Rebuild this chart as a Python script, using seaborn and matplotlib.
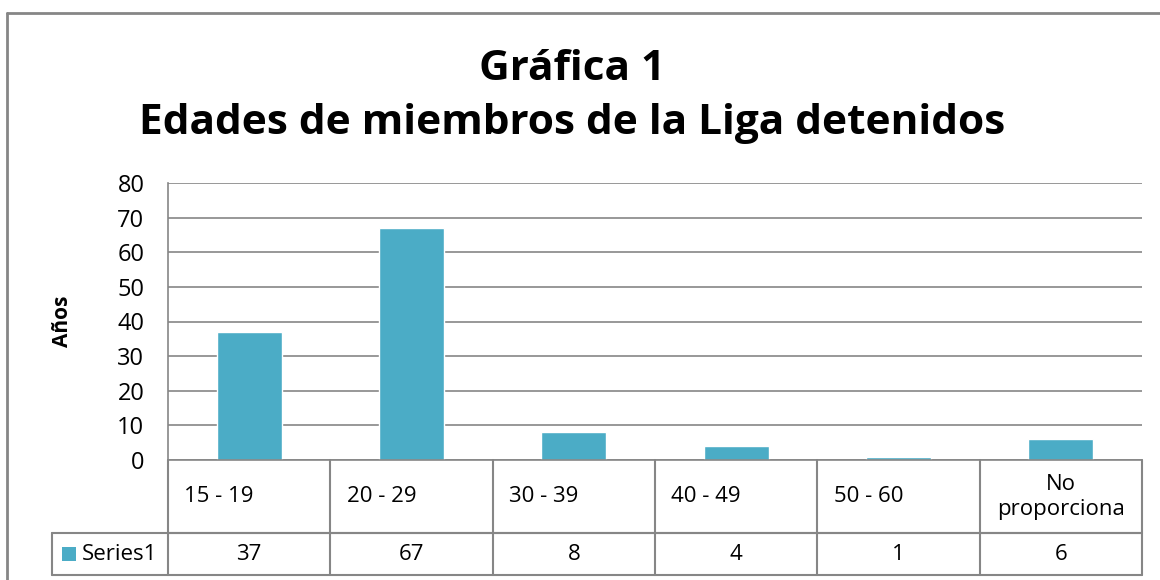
import matplotlib
matplotlib.use("Agg")
import matplotlib.pyplot as plt
import seaborn as sns
import pandas as pd
from matplotlib.patches import Rectangle
from matplotlib.lines import Line2D

# datos de la grafica
categorias = ["15 - 19", "20 - 29", "30 - 39", "40 - 49", "50 - 60", "No\nproporciona"]
valores = [37, 67, 8, 4, 1, 6]
serie = "Series1"
titulo = "Gráfica 1\nEdades de miembros de la Liga detenidos"
etiqueta_y = "Años"
ticks_y = [0, 10, 20, 30, 40, 50, 60, 70, 80]

COLOR = "#4BACC6"
GRIS = "#868686"
W, H = 1160, 580

sns.set_theme(style="white")
plt.rcParams["font.family"] = ["Open Sans", "DejaVu Sans"]
plt.rcParams["text.color"] = "black"
plt.rcParams["ytick.color"] = "black"
plt.rcParams["axes.labelcolor"] = "black"

df = pd.DataFrame({"categoria": categorias, "valor": valores})

fig = plt.figure(figsize=(W / 100, H / 100), dpi=100)

# area de trazado en pixeles
x0, x1 = 168, 1142
y_top, y_cero = 183, 460
ax = fig.add_axes([x0 / W, 1 - y_cero / H, (x1 - x0) / W, (y_cero - y_top) / H])

sns.barplot(data=df, x="categoria", y="valor", color=COLOR, width=0.4,
            saturation=1, ax=ax)

ax.set_ylim(0, 80)
ax.set_xlim(-0.5, len(categorias) - 0.5)
ax.set_yticks(ticks_y)
ax.tick_params(axis="y", labelsize=17, pad=17, length=0)
ax.set_xticks([])
ax.set_xlabel("")
ax.set_ylabel(etiqueta_y, fontsize=15, fontweight="bold", labelpad=32)
ax.yaxis.grid(True, color=GRIS, linewidth=1.2)
ax.set_axisbelow(True)
for lado in ["top", "right"]:
    ax.spines[lado].set_visible(False)
ax.spines["left"].set_color(GRIS)
ax.spines["bottom"].set_color(GRIS)
ax.spines["left"].set_linewidth(1.2)
ax.spines["bottom"].set_linewidth(1.2)

# tabla de datos bajo el eje
trans = ax.get_xaxis_transform()
px = 1 / (y_cero - y_top)  # un pixel en coordenadas del eje
fila1 = -(533 - y_cero) * px
fila2 = -(575 - y_cero) * px
x_serie = -0.5 - (x0 - 52) / ((x1 - x0) / len(categorias))
lk = dict(color=GRIS, linewidth=1.5, clip_on=False, transform=trans)

for i in range(len(categorias) + 1):
    ax.plot([i - 0.5, i - 0.5], [0, fila2], **lk)
ax.plot([-0.5, len(categorias) - 0.5], [fila1, fila1], **lk)
ax.plot([x_serie, len(categorias) - 0.5], [fila1, fila1], **lk)
ax.plot([x_serie, len(categorias) - 0.5], [fila2, fila2], **lk)
ax.plot([x_serie, x_serie], [fila1, fila2], **lk)

for i, (cat, val) in enumerate(zip(categorias, valores)):
    if "\n" in cat:
        ax.text(i, (0 + fila1) / 2, cat, ha="center", va="center", fontsize=16,
                transform=trans, linespacing=1.25)
    else:
        ax.text(i - 0.5 + 0.1, (0 + fila1) / 2, cat, ha="left", va="center",
                fontsize=16, transform=trans)
    ax.text(i, (fila1 + fila2) / 2, str(val), ha="center", va="center",
            fontsize=16, transform=trans)

# leyenda de la serie dentro de la tabla
ax.add_patch(Rectangle((x_serie + 0.06, (fila1 + fila2) / 2 - 7 * px), 0.085, 14 * px,
                       facecolor=COLOR, edgecolor="none", transform=trans, clip_on=False))
ax.text(x_serie + 0.185, (fila1 + fila2) / 2, serie, ha="left", va="center",
        fontsize=16, transform=trans)

fig.suptitle(titulo, x=0.493, y=1 - 49 / H, fontsize=30.5, fontweight="bold",
             va="top", linespacing=1.42)

# borde del grafico (solo arriba e izquierda visibles)
borde = dict(transform=fig.transFigure, color=GRIS, linewidth=2)
fig.lines.append(Line2D([7 / W, 1], [1 - 12.5 / H, 1 - 12.5 / H], **borde))
fig.lines.append(Line2D([7 / W, 7 / W], [0, 1 - 12.5 / H], **borde))

fig.savefig("out.png", dpi=100)
